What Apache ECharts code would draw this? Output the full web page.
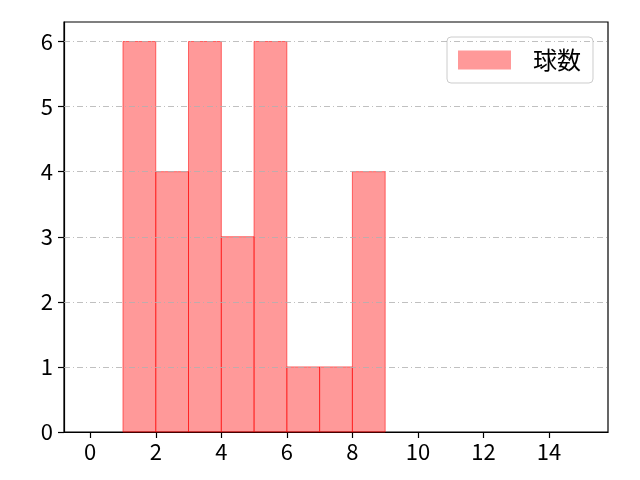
<!DOCTYPE html>
<html>
<head>
<meta charset="utf-8">
<script src="https://cdn.jsdelivr.net/npm/echarts@6/dist/echarts.min.js"></script>
<style>html,body{margin:0;padding:0;background:#fff}#c{width:640px;height:480px}</style>
</head>
<body>
<div id="c"></div>
<script>
var binStarts = [1, 2, 3, 4, 5, 6, 7, 8];
var binEnds   = [2, 3, 4, 5, 6, 7, 8, 9];
var counts    = [6, 4, 6, 3, 6, 1, 1, 4];
var xTicks = [0, 2, 4, 6, 8, 10, 12, 14];
var yTicks = [0, 1, 2, 3, 4, 5, 6];
var gridLines = [1, 2, 3, 4, 5, 6];
var seriesName = '球数';

var data = binStarts.map(function (s, i) { return [s, binEnds[i], counts[i]]; });
var chart = echarts.init(document.getElementById('c'), null, {renderer: 'canvas'});
var numFont = 'Noto Sans CJK JP';
chart.setOption({
  animation: false,
  grid: {left: 64, right: 32, top: 22, bottom: 48, show: true, borderColor: '#000', borderWidth: 1.2, backgroundColor: 'transparent'},
  legend: {
    data: [{name: seriesName, icon: 'rect'}],
    left: 447, top: 37,
    itemWidth: 53, itemHeight: 19, itemGap: 10,
    padding: [11, 12, 11, 11],
    backgroundColor: '#fff', borderColor: '#ccc', borderWidth: 1, borderRadius: 4,
    textStyle: {fontFamily: 'Noto Sans CJK JP', fontSize: 24, color: '#000', padding: [0, 0, 0, 17]}
  },
  xAxis: {
    type: 'value', min: -0.8, max: 15.8,
    axisLine: {show: true, onZero: false, lineStyle: {color: '#000', width: 1.2}},
    axisTick: {show: true, customValues: xTicks, length: 6, lineStyle: {color: '#000', width: 1.2}},
    axisLabel: {customValues: xTicks, fontFamily: numFont, fontSize: 22, color: '#000', margin: 9},
    splitLine: {show: false}
  },
  yAxis: {
    type: 'value', min: 0, max: 6.3,
    axisLine: {show: true, onZero: false, lineStyle: {color: '#000', width: 1.2}},
    axisTick: {show: true, customValues: yTicks, length: 6, lineStyle: {color: '#000', width: 1.2}},
    axisLabel: {customValues: yTicks, fontFamily: numFont, fontSize: 22, color: '#000', margin: 11},
    splitLine: {show: false}
  },
  series: [
    {
      type: 'line', name: '_grid', silent: true, data: [], legendHoverLink: false,
      markLine: {
        silent: true, symbol: 'none', label: {show: false},
        lineStyle: {color: '#b0b0b0', width: 0.8, type: [6, 3, 1, 3]},
        data: gridLines.map(function (v) { return {yAxis: v}; })
      }
    },
    {
      type: 'custom', name: seriesName,
      itemStyle: {color: 'rgba(255,0,0,0.4)'},
      renderItem: function (params, api) {
        var p0 = api.coord([api.value(0), api.value(2)]);
        var p1 = api.coord([api.value(1), 0]);
        return {
          type: 'rect',
          shape: {x: p0[0], y: p0[1], width: p1[0] - p0[0], height: p1[1] - p0[1]},
          style: {fill: 'rgba(255,0,0,0.4)', stroke: 'rgba(255,0,0,0.55)', lineWidth: 1}
        };
      },
      encode: {x: [0, 1], y: 2},
      data: data
    }
  ]
});
</script>
</body>
</html>
